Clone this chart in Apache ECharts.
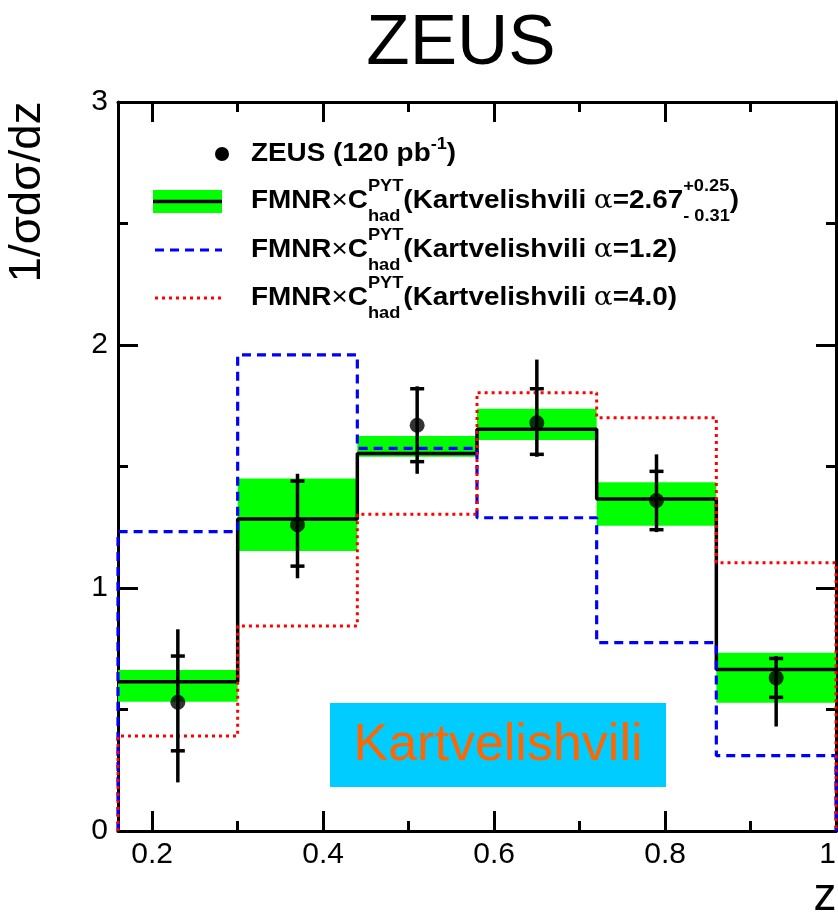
<!DOCTYPE html>
<html>
<head>
<meta charset="utf-8">
<script src="https://cdn.jsdelivr.net/npm/echarts@6/dist/echarts.min.js"></script>
<style>
  html, body { margin: 0; padding: 0; background: #fff; }
  #chart { width: 838px; height: 914px; }
</style>
</head>
<body>
<div id="chart"></div>
<script>
// bins in z and measured values
const binEdges = [0.16, 0.30, 0.44, 0.58, 0.72, 0.86, 1.00];
const zCentres = [0.23, 0.37, 0.51, 0.65, 0.79, 0.93];
const dataVal  = [0.53, 1.26, 1.67, 1.68, 1.36, 0.63];
const statLow  = [0.33, 1.09, 1.52, 1.55, 1.24, 0.55];
const statHigh = [0.72, 1.44, 1.82, 1.82, 1.48, 0.71];
const totLow   = [0.20, 1.04, 1.47, 1.54, 1.23, 0.43];
const totHigh  = [0.83, 1.47, 1.83, 1.94, 1.55, 0.72];

// FMNR x C_had predictions
const nloCentral  = [0.614, 1.284, 1.554, 1.653, 1.366, 0.665];
const nloBandLow  = [0.532, 1.152, 1.540, 1.609, 1.256, 0.528];
const nloBandHigh = [0.663, 1.451, 1.626, 1.738, 1.435, 0.734];
const alpha12     = [1.232, 1.959, 1.575, 1.289, 0.775, 0.310];
const alpha40     = [0.391, 0.844, 1.303, 1.804, 1.701, 1.104];

// axis ticks
const xMajorTicks = [0.2, 0.4, 0.6, 0.8, 1.0];
const xMinorTicks = [0.3, 0.5, 0.7, 0.9];
const yMajorTicks = [0, 1, 2, 3];
const yMinorTicks = [0.5, 1.5, 2.5];

const FONT = '"Liberation Sans", Arial, Helvetica, sans-serif';
const measureCtx = document.createElement('canvas').getContext('2d');

const textWidth = (text, size, weight, family) => {
    measureCtx.font = `${ weight || 'normal' } ${ size }px ${ family || FONT }`;
    return measureCtx.measureText(text).width;
};

// histogram outline points for a step line
const histPoints = (vals, toZero) => {
    const last = binEdges.length - 1;
    const pts = [];
    if (toZero) pts.push([binEdges[0], 0]);
    vals.forEach((v, i) => pts.push([binEdges[i], v]));
    pts.push([binEdges[last], vals[vals.length - 1]]);
    if (toZero) pts.push([binEdges[last], 0]);
    return pts;
};

const txt = (x, y, text, size, opts) => ({
    type: 'text', x, y,
    rotation: (opts && opts.rotation) || 0,
    scaleX: (opts && opts.scaleX) || 1,
    style: {
        text,
        fontSize: size,
        fontWeight: (opts && opts.weight) || 'normal',
        fontFamily: (opts && opts.family) || FONT,
        fill: (opts && opts.fill) || '#000',
        align: (opts && opts.align) || 'center',
        textAlign: (opts && opts.align) || 'center',
        verticalAlign: 'middle',
        textVerticalAlign: 'middle'
    }
});

// legend row: slots placed left to right, pieces in one slot share the same x (super/sub stack)
const LEG = 26;
const SMALL = 17;
const rowWidth = (slots) => slots.reduce((acc, slot) =>
    acc + Math.max(...slot.map(p => textWidth(p.text, p.size || LEG, p.weight || 'bold', p.family))), 0);

const legendRow = (slots, x, y, scaleX) => {
    const children = [];
    let cx = 0;
    slots.forEach(slot => {
        let adv = 0;
        slot.forEach(p => {
            const size = p.size || LEG;
            const weight = p.weight || 'bold';
            adv = Math.max(adv, textWidth(p.text, size, weight, p.family));
            children.push(txt(cx, p.dy || 0, p.text, size, { weight, family: p.family, align: 'left' }));
        });
        cx += adv;
    });
    return { type: 'group', x, y, scaleX, children };
};

const alphaPiece = { text: 'α', weight: 'normal', family: '"DejaVu Serif", serif' };
const fmnrHead = [
    [{ text: 'FMNR' }],
    [{ text: '×', weight: 'normal' }],
    [{ text: 'C' }],
    [{ text: 'PYT', size: SMALL, dy: -15 }, { text: 'had', size: SMALL, dy: 15 }],
    [{ text: '(Kartvelishvili ' }],
    [alphaPiece]
];
const row1 = [
    [{ text: 'ZEUS (120 pb' }],
    [{ text: '-1', size: SMALL, dy: -10 }],
    [{ text: ')' }]
];
const row2 = fmnrHead.concat([
    [{ text: '=2.67' }],
    [{ text: '+0.25', size: SMALL, dy: -15 }, { text: '- 0.31', size: SMALL, dy: 15 }],
    [{ text: ')' }]
]);
const row3 = fmnrHead.concat([[{ text: '=1.2)' }]]);
const row4 = fmnrHead.concat([[{ text: '=4.0)' }]]);
const legScale = 426 / rowWidth(row3);

const yTitle = '1/σdσ/dz';
const yTitleScale = 181 / textWidth(yTitle, 44);

const chart = echarts.init(document.getElementById('chart'), null, { renderer: 'canvas' });

const axisColor = '#000';
const xAxisDef = (position, ticks, len, withLine, withLabel) => ({
    type: 'value', min: 0.16, max: 1.0, position,
    axisLine: { show: withLine, onZero: false, lineStyle: { color: axisColor, width: 3 } },
    axisTick: { show: true, inside: true, length: len, customValues: ticks, lineStyle: { color: axisColor, width: 3 } },
    axisLabel: withLabel ? {
        show: true, customValues: ticks, margin: 9, fontSize: 30, fontFamily: FONT, color: '#000',
        alignMaxLabel: 'right',
        formatter: v => (v === 1 ? '1' : v.toFixed(1))
    } : { show: false },
    splitLine: { show: false }
});
const yAxisDef = (position, ticks, len, withLine, withLabel) => ({
    type: 'value', min: 0, max: 3, position,
    axisLine: { show: withLine, onZero: false, lineStyle: { color: axisColor, width: 3 } },
    axisTick: { show: true, inside: true, length: len, customValues: ticks, lineStyle: { color: axisColor, width: 3 } },
    axisLabel: withLabel ? {
        show: true, customValues: ticks, margin: 10, fontSize: 30, fontFamily: FONT, color: '#000',
        formatter: v => String(v)
    } : { show: false },
    splitLine: { show: false }
});

const option = {
    animation: false,
    backgroundColor: '#fff',
    grid: { left: 118, right: 2, top: 102, bottom: 83, containLabel: false, outerBoundsMode: 'none' },
    xAxis: [
        xAxisDef('bottom', xMajorTicks, 20, true, true),
        xAxisDef('bottom', xMinorTicks, 10, false, false),
        xAxisDef('top', xMajorTicks, 20, true, false),
        xAxisDef('top', xMinorTicks, 10, false, false)
    ],
    yAxis: [
        yAxisDef('left', yMajorTicks, 20, true, true),
        yAxisDef('left', yMinorTicks, 10, false, false),
        yAxisDef('right', yMajorTicks, 20, true, false),
        yAxisDef('right', yMinorTicks, 10, false, false)
    ],
    series: [
        {
            // uncertainty band of the central prediction
            type: 'custom',
            xAxisIndex: 0, yAxisIndex: 0,
            z: 1,
            data: nloCentral.map((v, i) => [binEdges[i], binEdges[i + 1], nloBandLow[i], nloBandHigh[i]]),
            renderItem: (params, api) => {
                const p1 = api.coord([api.value(0), api.value(3)]);
                const p2 = api.coord([api.value(1), api.value(2)]);
                return {
                    type: 'rect',
                    shape: { x: p1[0], y: p1[1], width: p2[0] - p1[0], height: p2[1] - p1[1] },
                    style: { fill: '#00ff00' }
                };
            }
        },
        {
            type: 'line', step: 'end', symbol: 'none', z: 2,
            data: histPoints(nloCentral, false),
            lineStyle: { color: '#000', width: 3.5 }
        },
        {
            type: 'line', step: 'end', symbol: 'none', z: 3,
            data: histPoints(alpha12, true),
            lineStyle: { color: '#0000ff', width: 3.2, type: [9, 6] }
        },
        {
            type: 'line', step: 'end', symbol: 'none', z: 4,
            data: histPoints(alpha40, true),
            lineStyle: { color: '#ff0000', width: 3, type: [3, 4] }
        },
        {
            // stat (ticks) and total (full line) errors
            type: 'custom', z: 5,
            data: dataVal.map((v, i) => [zCentres[i], v, statLow[i], statHigh[i], totLow[i], totHigh[i]]),
            renderItem: (params, api) => {
                const x = api.value(0);
                const top = api.coord([x, api.value(5)]);
                const bot = api.coord([x, api.value(4)]);
                const sHi = api.coord([x, api.value(3)]);
                const sLo = api.coord([x, api.value(2)]);
                const hw = 7;
                const style = { stroke: '#000', lineWidth: 3.5 };
                return {
                    type: 'group',
                    children: [
                        { type: 'line', shape: { x1: top[0], y1: top[1], x2: bot[0], y2: bot[1] }, style },
                        { type: 'line', shape: { x1: sHi[0] - hw, y1: sHi[1], x2: sHi[0] + hw, y2: sHi[1] }, style },
                        { type: 'line', shape: { x1: sLo[0] - hw, y1: sLo[1], x2: sLo[0] + hw, y2: sLo[1] }, style }
                    ]
                };
            }
        },
        {
            type: 'scatter', z: 6,
            symbol: 'circle', symbolSize: 15,
            itemStyle: { color: '#000' },
            data: dataVal.map((v, i) => [zCentres[i], v])
        }
    ],
    graphic: [
        txt(461, 44, 'ZEUS', 71),
        txt(28, 192, yTitle, 44, { rotation: Math.PI / 2, scaleX: yTitleScale }),
        txt(825, 897, 'z', 46),

        // legend
        { type: 'circle', shape: { cx: 222, cy: 154, r: 7 }, style: { fill: '#000' } },
        legendRow(row1, 251, 154, legScale),
        { type: 'rect', shape: { x: 153, y: 190, width: 69, height: 23 }, style: { fill: '#00ff00' } },
        { type: 'line', shape: { x1: 153, y1: 201.5, x2: 222, y2: 201.5 }, style: { stroke: '#000', lineWidth: 3.5 } },
        legendRow(row2, 251, 201, legScale),
        { type: 'line', shape: { x1: 155, y1: 250, x2: 222, y2: 250 }, style: { stroke: '#0000ff', lineWidth: 3.2, lineDash: [9, 6] } },
        legendRow(row3, 251, 250, legScale),
        { type: 'line', shape: { x1: 155, y1: 298, x2: 222, y2: 298 }, style: { stroke: '#ff0000', lineWidth: 3, lineDash: [3, 4] } },
        legendRow(row4, 251, 298, legScale),

        // model label
        { type: 'rect', shape: { x: 330, y: 703, width: 336, height: 84 }, style: { fill: '#00ccff' } },
        txt(498, 746, 'Kartvelishvili', 52, { fill: '#ff6600' })
    ]
};

chart.setOption(option);
</script>
</body>
</html>
